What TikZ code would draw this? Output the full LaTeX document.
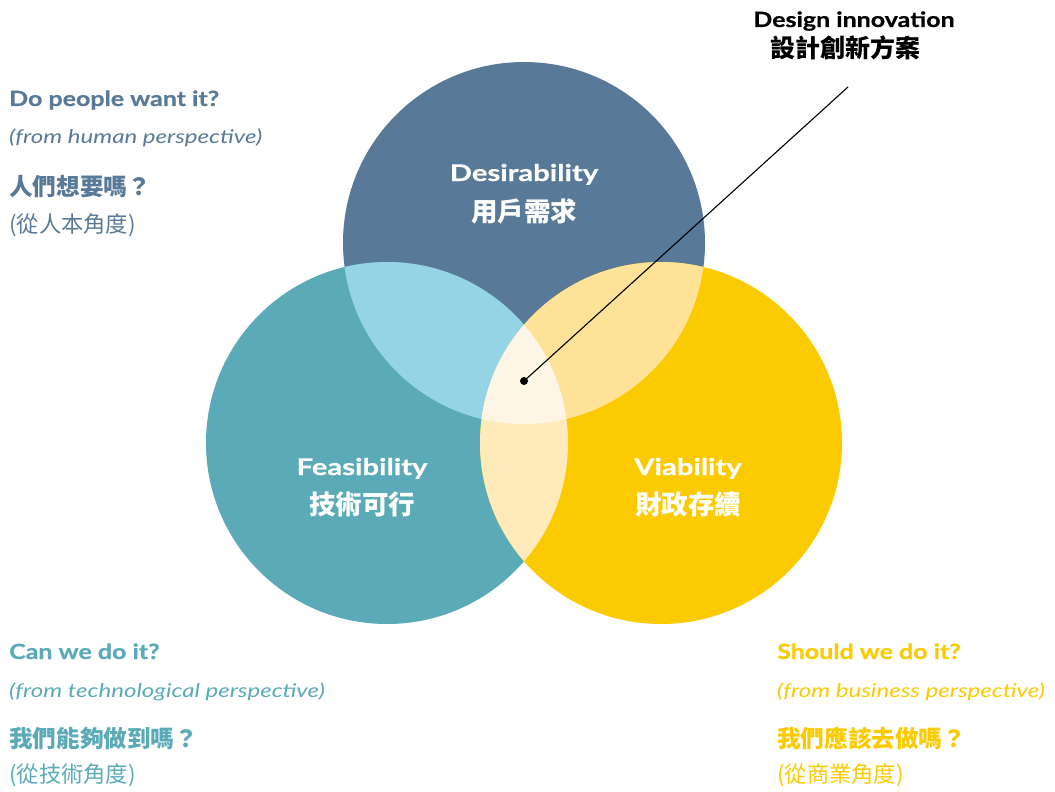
\documentclass[tikz,border=0pt]{standalone}
\usepackage{fontspec}
\setmainfont{Lato}
\newfontfamily\latoB{Lato}[FakeStretch=1.19, BoldFeatures={FakeBold=0.6}]
\newfontfamily\latoC{Lato}[FakeStretch=1.27, BoldFeatures={FakeBold=0.6}]
\newfontfamily\latoI{Lato}[FakeStretch=1.265]
\newfontfamily\cjk{Noto Sans CJK TC}
\definecolor{cblue}{HTML}{587A98}
\definecolor{cteal}{HTML}{5AAAB8}
\definecolor{cyel}{HTML}{FBCA00}
\definecolor{ovTL}{HTML}{94D4E4}
\definecolor{ovTR}{HTML}{FDE298}
\definecolor{ovLR}{HTML}{FEEBB9}
\definecolor{ovC}{HTML}{FEF5E5}
\tikzset{
  qen/.style={anchor=base west, inner sep=0pt, font=\latoB\fontsize{21}{25}\selectfont\bfseries},
  qit/.style={anchor=base west, inner sep=0pt, font=\latoI\fontsize{19}{23}\selectfont\itshape},
  qzh/.style={anchor=base west, inner sep=0pt, font=\cjk\fontsize{23.6}{27}\selectfont\bfseries},
  qzr/.style={anchor=base west, inner sep=0pt, font=\cjk\fontsize{22.3}{26}\selectfont},
  cen/.style={anchor=base, inner sep=0pt, text=white, font=\latoC\fontsize{23}{27}\selectfont\bfseries},
  czh/.style={anchor=base, inner sep=0pt, text=white, font=\cjk\fontsize{26.5}{30}\selectfont\bfseries},
}
\begin{document}
\begin{tikzpicture}[x=1pt,y=-1pt]
\useasboundingbox (0,0) rectangle (1055,792);
\coordinate (D) at (524,243);
\coordinate (F) at (387,443);
\coordinate (V) at (661,443);
\def\R{181pt}
\fill[cblue] (D) circle (\R);
\fill[cteal] (F) circle (\R);
\fill[cyel] (V) circle (\R);
\begin{scope}
  \clip (D) circle (\R);
  \fill[ovTL] (F) circle (\R);
  \fill[ovTR] (V) circle (\R);
\end{scope}
\begin{scope}
  \clip (F) circle (\R);
  \fill[ovLR] (V) circle (\R);
  \clip (D) circle (\R);
  \fill[ovC] (V) circle (\R);
\end{scope}

\node[cen] (des) at (524,181) {Desirability};
\node[czh] (deszh) at (524,221) {用戶需求};
\node[cen] (fea) at (362,475) {Feasibility};
\node[czh] (feazh) at (362,514) {技術可行};
\node[cen] (via) at (688,475) {Viability};
\node[czh] (viazh) at (688,514) {財政存續};

\node[circle, fill=black, inner sep=0pt, minimum size=8pt] (dot) at (524,381) {};
\coordinate (lend) at (848,87);
\draw[line width=1.1pt] (dot.center) -- (lend);
\node[anchor=base, inner sep=0pt, font=\latoB\fontsize{21}{25}\selectfont\bfseries] (di) at (854,27) {Design innovation};
\node[anchor=base, inner sep=0pt, font=\cjk\fontsize{25}{29}\selectfont\bfseries] (dizh) at (845,58) {設計創新方案};

\node[qen, text=cblue] (t1) at (9,106) {Do people want it?};
\node[qit, text=cblue] (t2) at (9,143) {(from human perspective)};
\node[qzh, text=cblue] (t3) at (9,195) {人們想要嗎？};
\node[qzr, text=cblue] (t4) at (9,232) {(從人本角度)};

\node[qen, text=cteal] (b1) at (9,659) {Can we do it?};
\node[qit, text=cteal] (b2) at (9,697) {(from technological perspective)};
\node[qzh, text=cteal] (b3) at (9,747) {我們能夠做到嗎？};
\node[qzr, text=cteal] (b4) at (9,782) {(從技術角度)};

\node[qen, text=cyel] (r1) at (777,659) {Should we do it?};
\node[qit, text=cyel] (r2) at (777,697) {(from business perspective)};
\node[qzh, text=cyel] (r3) at (777,747) {我們應該去做嗎？};
\node[qzr, text=cyel] (r4) at (777,782) {(從商業角度)};
\end{tikzpicture}
\end{document}
